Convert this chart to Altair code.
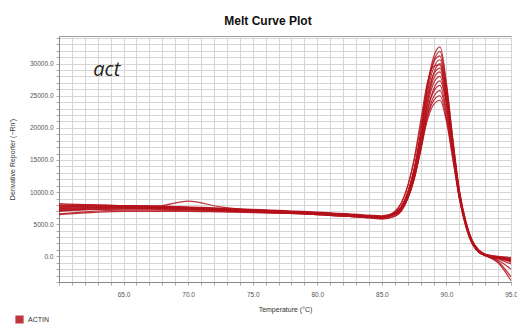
import altair as alt
import pandas as pd

# Temperatures (°C) at which each melt curve was read
temps = [60, 62.5, 65, 67.5, 70, 72.5, 75, 77.5, 80, 82.5, 84, 85,
         86, 86.5, 87, 87.5, 88, 88.5, 89, 89.5, 90, 90.5, 91, 91.5, 92, 92.5, 93, 94, 95]

# Derivative reporter (-Rn') for each well
c01 = [7800, 7900, 7900, 7800, 7700, 7500, 7300, 7100, 6900, 6600, 6400, 6300,
       6800, 7700, 9900, 13600, 19200, 26300, 31000, 32600, 27000, 18200, 10200, 5200, 2200, 700, 100, -300, -600]
c02 = [7400, 7600, 7700, 7600, 7500, 7300, 7200, 7000, 6800, 6500, 6300, 6200,
       6700, 7600, 9800, 13400, 19000, 25800, 30300, 31900, 26600, 18000, 10000, 5100, 2100, 700, 150, -250, -500]
c03 = [7000, 7300, 7400, 7400, 7300, 7100, 7000, 6900, 6700, 6400, 6200, 6100,
       7000, 8200, 10800, 14800, 20200, 26400, 30200, 31200, 25600, 17000, 9400, 4700, 1900, 650, 150, -200, -400]
c04 = [8200, 8000, 7900, 7700, 7600, 7400, 7200, 7000, 6800, 6500, 6300, 6200,
       6800, 7700, 9900, 13500, 18800, 25200, 29300, 30600, 25600, 17300, 9800, 5000, 2100, 700, 150, -300, -700]
c05 = [7600, 7700, 7700, 7600, 7500, 7300, 7100, 6900, 6700, 6400, 6200, 6100,
       6500, 7200, 9000, 12200, 17200, 23800, 28400, 30000, 25600, 17800, 10300, 5400, 2400, 900, 250, -100, -300]
c06 = [7300, 7500, 7600, 7500, 7400, 7200, 7000, 6900, 6700, 6400, 6200, 6100,
       6700, 7600, 9800, 13400, 18600, 24600, 28300, 29300, 24700, 17000, 9700, 5000, 2200, 800, 200, -200, -900]
c07 = [7700, 7800, 7800, 7800, 8600, 7700, 7200, 7000, 6800, 6500, 6300, 6200,
       6700, 7500, 9600, 13000, 18000, 23800, 27600, 28700, 24300, 16800, 9600, 5000, 2200, 800, 200, -400, -1200]
c08 = [6500, 6800, 7000, 7000, 7000, 6900, 6800, 6700, 6500, 6200, 6000, 5900,
       6300, 7100, 9200, 12600, 17500, 23200, 26900, 28000, 23700, 16500, 9500, 5000, 2200, 800, 150, -600, -2000]
c09 = [7900, 7900, 7800, 7700, 7600, 7400, 7200, 7000, 6800, 6500, 6300, 6200,
       6600, 7300, 9000, 12000, 16600, 22200, 26000, 27300, 23800, 17000, 10100, 5500, 2500, 1000, 300, -100, -400]
c10 = [7200, 7400, 7500, 7400, 7300, 7200, 7000, 6800, 6600, 6300, 6100, 6000,
       6500, 7300, 9300, 12600, 17300, 22600, 25600, 26600, 22700, 16000, 9400, 5000, 2300, 900, 300, 0, -200]
c11 = [6600, 7000, 7200, 7200, 7100, 7000, 6900, 6700, 6500, 6200, 6000, 5800,
       6200, 7000, 8900, 12000, 16500, 21700, 24800, 25800, 22200, 15800, 9300, 5000, 2300, 900, 250, -800, -3200]
c12 = [7500, 7600, 7600, 7500, 7400, 7200, 7000, 6800, 6600, 6300, 6100, 6000,
       6500, 7300, 9200, 12300, 16700, 21500, 24200, 25000, 21500, 15300, 9100, 4900, 2300, 900, 300, -300, -800]
c13 = [8000, 8000, 7900, 7800, 7600, 7400, 7200, 7000, 6800, 6500, 6300, 6200,
       6600, 7400, 9200, 12200, 16400, 21000, 23600, 24300, 21000, 15000, 9000, 4900, 2300, 1000, 300, -200, -600]
c14 = [7100, 7300, 7400, 7400, 7300, 7100, 6900, 6700, 6500, 6200, 6000, 5900,
       6900, 8300, 11000, 15200, 21000, 26800, 29600, 29800, 24200, 16200, 9000, 4600, 1900, 600, 100, -1000, -3800]

curves = [c01, c02, c03, c04, c05, c06, c07, c08, c09, c10, c11, c12, c13, c14]
gene = "ACTIN"

x_ticks = list(range(60, 96))
y_ticks = list(range(-4000, 35000, 1000))

rows = []
for i, c in enumerate(curves):
    for t, v in zip(temps, c):
        rows.append({"well": i, "temp": t, "value": v, "gene": gene})
df = pd.DataFrame(rows)

label_df = pd.DataFrame({"temp": [63.7], "value": [29000], "text": ["act"]})

RED = "#b5121b"
FONT = "Liberation Sans"

x_enc = alt.X("temp:Q", scale=alt.Scale(domain=[60, 95], nice=False, zero=False),
              axis=alt.Axis(values=x_ticks, tickCount=200,
                            labelExpr="datum.value % 5 == 0 && datum.value > 60 ? format(datum.value, '.1f') : ''",
                            title="Temperature (°C)", labelFlush=False, labelOverlap=False,
                            labelPadding=6, titlePadding=8))
y_enc = alt.Y("value:Q", scale=alt.Scale(domain=[-4000, 34300], nice=False, zero=False),
              axis=alt.Axis(values=y_ticks, tickCount=200,
                            labelExpr="datum.value % 5000 == 0 && datum.value >= 0 ? format(datum.value, '.1f') : ''",
                            title="Derivative Reporter (−Rn')", labelOverlap=False, labelPadding=3,
                            titlePadding=14))

lines = alt.Chart(df).mark_line(strokeWidth=1.2, interpolate="monotone", clip=True, opacity=0.85).encode(
    x=x_enc,
    y=y_enc,
    detail="well:N",
    color=alt.Color("gene:N", scale=alt.Scale(range=[RED]),
                    legend=alt.Legend(title=None, orient="none", legendX=-44, legendY=279,
                                      symbolType="square", symbolFillColor=RED, symbolStrokeColor=RED,
                                      symbolSize=45, labelFontSize=7, labelFont=FONT, labelColor="#333")),
)

txt = alt.Chart(label_df).mark_text(fontSize=20, fontStyle="italic", font="Open Sans", color="#222").encode(
    x="temp:Q", y="value:Q", text="text:N")

chart = (lines + txt).properties(
    width=452, height=246,
    padding={"left": 51, "top": 28, "right": 6, "bottom": 45},
    autosize=alt.AutoSizeParams(type="none"),
    title=alt.TitleParams("Melt Curve Plot", fontSize=12, fontWeight="bold", font=FONT,
                          color="#111", dx=-17, offset=7),
).configure_axis(
    labelFont=FONT, labelFontSize=6.5, labelColor="#555",
    titleFont=FONT, titleFontSize=7, titleFontWeight="normal", titleColor="#333",
    gridColor="#d6d6d6", gridWidth=1, tickColor="#aaa", tickSize=3,
    domainColor="#888",
).configure_view(stroke="#999", strokeWidth=1)

chart.save("out.html", embed_options={"renderer": "svg", "actions": False})
